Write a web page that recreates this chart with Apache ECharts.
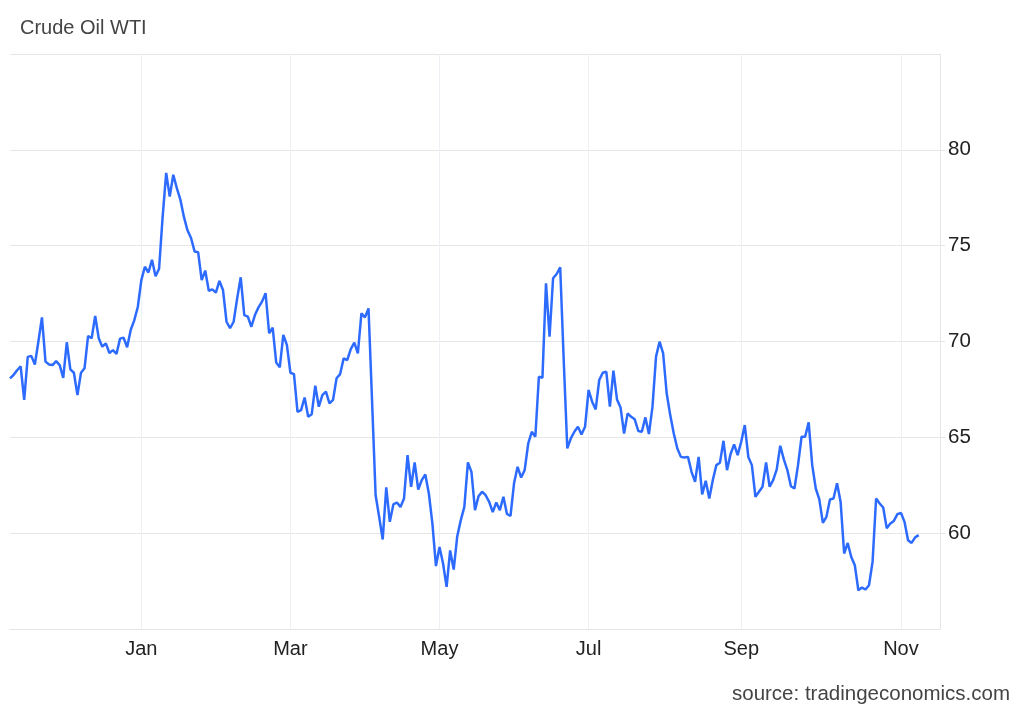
<!DOCTYPE html>
<html>
<head>
<meta charset="utf-8">
<title>Crude Oil WTI</title>
<script src="https://cdn.jsdelivr.net/npm/echarts@6/dist/echarts.min.js"></script>
<style>
  html, body { margin: 0; padding: 0; background: #fff; }
  #chart { width: 1024px; height: 710px; }
</style>
</head>
<body>
<div id="chart"></div>
<script>
// daily closes, split by period
const lateNovDec = [68.08, 68.25, 68.5, 68.7, 66.95, 69.2, 69.25, 68.8, 70.0, 71.26,
  68.95, 68.8, 68.77, 68.98, 68.77, 68.1, 69.96, 68.55, 68.37, 67.2,
  68.37, 68.6, 70.29, 70.17, 71.33, 70.17, 69.73, 69.9, 69.4, 69.55,
  69.35, 70.15, 70.2, 69.7, 70.6, 71.1, 71.8];
const janFeb = [73.2, 73.9, 73.6, 74.26, 73.4, 73.8, 76.5, 78.8, 77.56, 78.7,
  78.0, 77.4, 76.5, 75.8, 75.4, 74.7, 74.66, 73.2, 73.7, 72.65,
  72.72, 72.55, 73.16, 72.69, 71.03, 70.69, 71.03, 72.25, 73.35, 71.38,
  71.3, 70.77, 71.38, 71.78, 72.08, 72.52, 70.43, 70.72, 68.9, 68.65,
  70.34, 69.82];
const marApr = [68.37, 68.3, 66.33, 66.42, 67.08, 66.07, 66.21, 67.69, 66.6, 67.2,
  67.38, 66.77, 66.95, 68.08, 68.3, 69.12, 69.03, 69.6, 69.94, 69.38,
  71.47, 71.26, 71.73, 66.9, 61.98, 60.85, 59.67, 62.39, 60.59, 61.5,
  61.6, 61.37, 61.81, 64.07, 62.42, 63.69, 62.28, 62.77, 63.06, 62.07,
  60.5, 58.28];
const mayJun = [59.28, 58.42, 57.2, 59.1, 58.1, 59.84, 60.68, 61.37, 63.69, 63.2,
  61.2, 61.93, 62.16, 61.98, 61.63, 61.1, 61.6, 61.2, 61.9, 61.0,
  60.9, 62.6, 63.46, 62.9, 63.3, 64.68, 65.29, 65.03, 68.16, 68.11,
  73.04, 70.25, 73.3, 73.52, 73.87, 69.0, 64.42, 64.95, 65.29, 65.55,
  65.15, 65.55];
const julAug = [67.47, 66.86, 66.46, 67.99, 68.37, 68.42, 66.6, 68.48, 66.98, 66.56,
  65.2, 66.25, 66.07, 65.94, 65.33, 65.29, 66.04, 65.17, 66.6, 69.21,
  69.99, 69.38, 67.3, 66.16, 65.2, 64.42, 63.98, 63.95, 63.98, 63.2,
  62.68, 63.98, 62.02, 62.73, 61.81, 62.77, 63.55, 63.67, 64.82, 63.29,
  64.13, 64.63, 64.07];
const sepOct = [64.77, 65.64, 63.98, 63.55, 61.9, 62.16, 62.42, 63.69, 62.42, 62.77,
  63.33, 64.56, 63.85, 63.29, 62.45, 62.33, 63.55, 65.03, 65.03, 65.78,
  63.55, 62.33, 61.76, 60.54, 60.85, 61.76, 61.81, 62.6, 61.63, 58.94,
  59.49, 58.76, 58.33, 57.02, 57.16, 57.06, 57.28, 58.5, 61.81, 61.55,
  61.34, 60.25, 60.5, 60.64, 60.99];
const nov = [61.06, 60.59, 59.63, 59.49, 59.78, 59.9];
const emptyDays = 6; // axis runs a little past the last close

// month ticks: category index -> label
const monthTicks = { 37: 'Jan', 79: 'Mar', 121: 'May', 163: 'Jul', 206: 'Sep', 251: 'Nov' };

const yMin = 55, yMax = 85, yStep = 5;

const values = [].concat(lateNovDec, janFeb, marApr, mayJun, julAug, sepOct, nov);
for (let i = 0; i < emptyDays; i++) values.push(null);
const categories = values.map((_, i) => String(i));

const FONT = '"Liberation Sans", Arial, Helvetica, sans-serif';
const chart = echarts.init(document.getElementById('chart'), null, { renderer: 'canvas' });

chart.setOption({
  backgroundColor: '#ffffff',
  animation: false,
  textStyle: { fontFamily: FONT },
  title: [
    { text: 'Crude Oil WTI', left: 15, top: 13,
      textStyle: { fontFamily: FONT, fontSize: 20, fontWeight: 'normal', color: '#444' } },
    { text: 'source: tradingeconomics.com', right: 9, top: 679,
      textStyle: { fontFamily: FONT, fontSize: 20.5, fontWeight: 'normal', color: '#444' } },
  ],
  grid: { left: 10, right: 84, top: 54, bottom: 81 },
  xAxis: {
    type: 'category', data: categories, boundaryGap: false,
    axisLine: { show: true, lineStyle: { color: '#e6e6e6', width: 1 } },
    axisTick: { show: false },
    axisLabel: {
      interval: (i) => monthTicks[i] !== undefined,
      formatter: (v) => monthTicks[v] || '',
      color: '#222', fontSize: 20, margin: 10, fontFamily: FONT,
    },
    splitLine: {
      show: true, interval: (i) => monthTicks[i] !== undefined,
      lineStyle: { color: '#edf1f6', width: 1 },
    },
  },
  yAxis: {
    type: 'value', position: 'right', min: yMin, max: yMax, interval: yStep,
    axisLine: { show: true, lineStyle: { color: '#e6e6e6', width: 1 } },
    axisTick: { show: true, length: 5, lineStyle: { color: '#e6e6e6' } },
    axisLabel: { showMinLabel: false, showMaxLabel: false, color: '#222', fontSize: 20.5, margin: 8, fontFamily: FONT },
    splitLine: { lineStyle: { color: '#e6e6e6', width: 1 } },
  },
  series: [{
    name: 'Crude Oil WTI', type: 'line', data: values,
    symbol: 'none', smooth: false, connectNulls: false,
    lineStyle: { color: '#2d6bff', width: 2.5 },
  }],
});
</script>
</body>
</html>
